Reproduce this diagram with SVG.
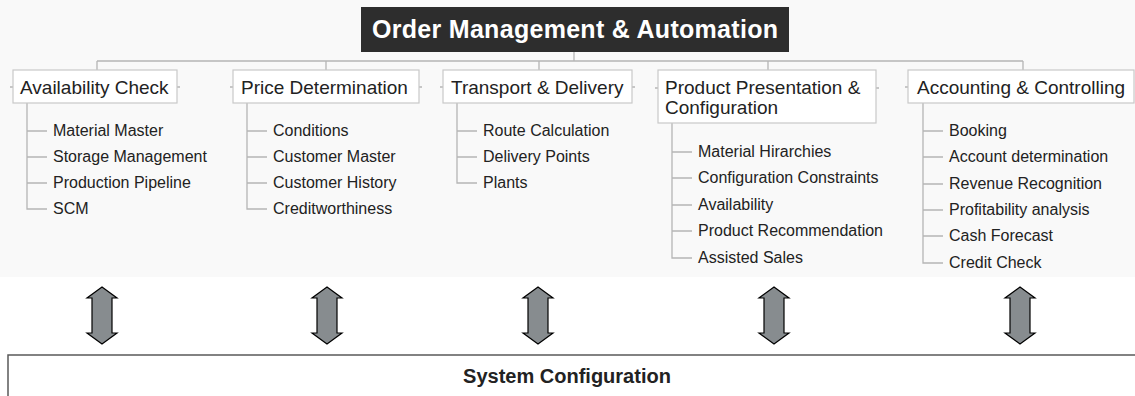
<svg xmlns="http://www.w3.org/2000/svg" width="1135" height="396" viewBox="0 0 1135 396">
<style>
.box{fill:#fff;stroke:#c9c9c9;stroke-width:1.2}
.lbl{font-family:"Liberation Sans",Arial,sans-serif;font-size:19px;fill:#222}
.item{font-family:"Liberation Sans",Arial,sans-serif;font-size:16px;fill:#222}
.con{fill:none;stroke:#b5b5b5;stroke-width:1.3}
.arr{fill:#878c8f;stroke:#000;stroke-width:1.2;stroke-linejoin:miter}
</style>
<defs>
<path id="dbl" class="arr" d="M0,-28 L15,-17 L10,-17 L10,18 L15,18 L0,29 L-15,18 L-10,18 L-10,-17 L-15,-17 Z"/>
</defs>
<rect x="0" y="0" width="1135" height="277" fill="#f9f9f9"/>
<g id="connectors">
<path class="con" d="M574,52 V61 M97,61 H1023 M97,61 V70 M326,61 V70 M539,61 V70 M768,61 V70 M1023,61 V70"/>
<path class="con" d="M10,87 H13 M177,87 H180 M230,87 H233 M419,87 H422 M440,87 H443 M632,87 H635 M655,88 H658 M876,88 H879 M905,87 H908"/>
<path class="con" d="M27,103 V209 H47 M27,131 H47 M27,157 H47 M27,183 H47"/>
<path class="con" d="M247,103 V209 H267 M247,131 H267 M247,157 H267 M247,183 H267"/>
<path class="con" d="M457,103 V183 H477 M457,131 H477 M457,157 H477"/>
<path class="con" d="M672,123 V258 H692 M672,152 H692 M672,178 H692 M672,205 H692 M672,231 H692"/>
<path class="con" d="M923,103 V263 H943 M923,131 H943 M923,157 H943 M923,184 H943 M923,210 H943 M923,236 H943"/>
<use href="#dbl" x="102" y="315"/>
<use href="#dbl" x="327" y="315"/>
<use href="#dbl" x="538" y="315"/>
<use href="#dbl" x="774" y="315"/>
<use href="#dbl" x="1020" y="315"/>
</g>
<g id="title">
<rect x="361" y="7" width="428" height="45" fill="#2d2d2d"/>
<text x="575" y="38" text-anchor="middle" font-family="Liberation Sans,Arial,sans-serif" font-weight="bold" font-size="25" fill="#fff" textLength="406" lengthAdjust="spacing">Order Management &amp; Automation</text>
</g>
<g id="availability">
<rect class="box" x="13" y="70" width="164" height="33"/>
<text class="lbl" x="20" y="94">Availability Check</text>
<text class="item" x="53" y="136">Material Master</text>
<text class="item" x="53" y="162">Storage Management</text>
<text class="item" x="53" y="188">Production Pipeline</text>
<text class="item" x="53" y="214">SCM</text>
</g>
<g id="price">
<rect class="box" x="233" y="70" width="186" height="33"/>
<text class="lbl" x="241" y="94">Price Determination</text>
<text class="item" x="273" y="136">Conditions</text>
<text class="item" x="273" y="162">Customer Master</text>
<text class="item" x="273" y="188">Customer History</text>
<text class="item" x="273" y="214">Creditworthiness</text>
</g>
<g id="transport">
<rect class="box" x="443" y="70" width="189" height="33"/>
<text class="lbl" x="451" y="94">Transport &amp; Delivery</text>
<text class="item" x="483" y="136">Route Calculation</text>
<text class="item" x="483" y="162">Delivery Points</text>
<text class="item" x="483" y="188">Plants</text>
</g>
<g id="product">
<rect class="box" x="658" y="70" width="218" height="53"/>
<text class="lbl" x="665" y="94">Product Presentation &amp;</text>
<text class="lbl" x="665" y="114">Configuration</text>
<text class="item" x="698" y="157">Material Hirarchies</text>
<text class="item" x="698" y="183">Configuration Constraints</text>
<text class="item" x="698" y="210">Availability</text>
<text class="item" x="698" y="236">Product Recommendation</text>
<text class="item" x="698" y="263">Assisted Sales</text>
</g>
<g id="accounting">
<rect class="box" x="908" y="70" width="226" height="33"/>
<text class="lbl" x="917" y="94">Accounting &amp; Controlling</text>
<text class="item" x="949" y="136">Booking</text>
<text class="item" x="949" y="162">Account determination</text>
<text class="item" x="949" y="189">Revenue Recognition</text>
<text class="item" x="949" y="215">Profitability analysis</text>
<text class="item" x="949" y="241">Cash Forecast</text>
<text class="item" x="949" y="268">Credit Check</text>
</g>
<g id="system">
<path d="M8,397 V355 H1136" fill="#fff" stroke="#5a5a5a" stroke-width="1.5"/>
<text x="567" y="383" text-anchor="middle" font-family="Liberation Sans,Arial,sans-serif" font-weight="bold" font-size="20" fill="#222">System Configuration</text>
</g>
</svg>
